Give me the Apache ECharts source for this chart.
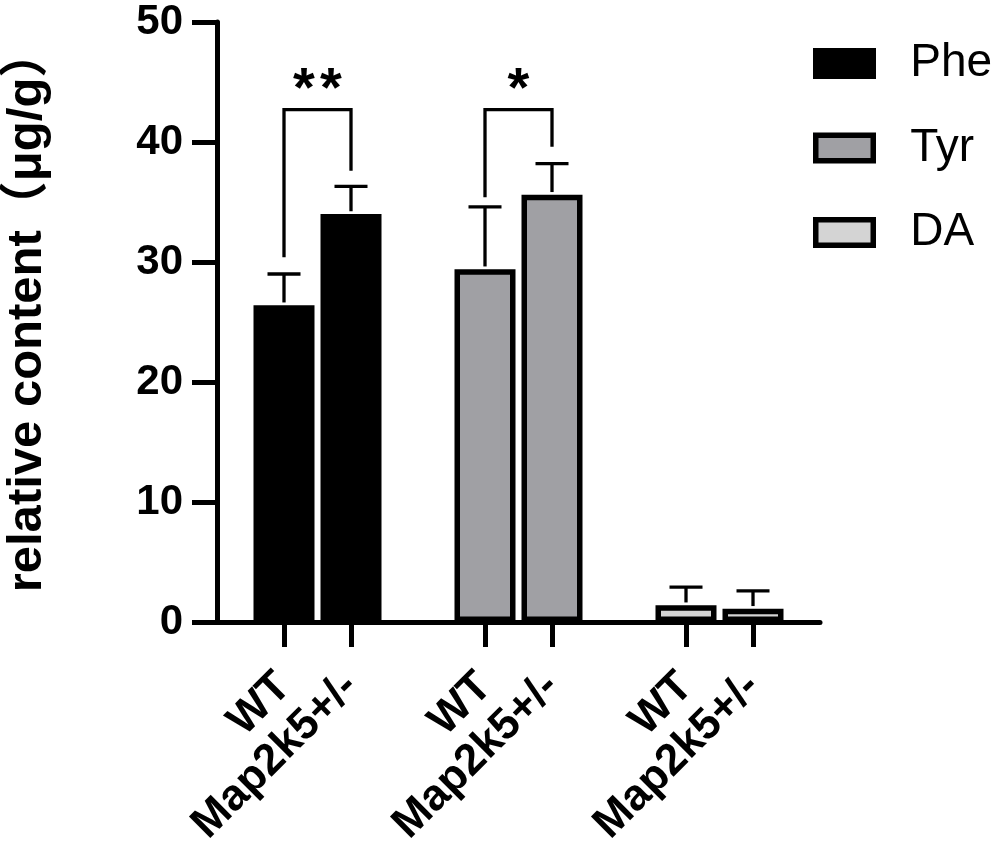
<!DOCTYPE html>
<html>
<head>
<meta charset="utf-8">
<script src="https://cdn.jsdelivr.net/npm/echarts@6/dist/echarts.min.js"></script>
<style>html,body{margin:0;padding:0;background:#fff}#c{width:1001px;height:849px}</style>
</head>
<body>
<div id="c"></div>
<script>
// categories along the x axis ('' = spacer slot)
const categories = ['', 'WT', 'Map2k5+/-', '', 'WT', 'Map2k5+/-', '', 'WT', 'Map2k5+/-', ''];
// slot index of each group's two bars
const pheIdx = [1, 2];
const tyrIdx = [4, 5];
const daIdx = [7, 8];
// means and (upper) errors
const pheMean = [26.4, 34.0];
const pheErr = [2.6, 2.3];
const tyrMean = [29.4, 35.6];
const tyrErr = [5.2, 2.6];
const daMean = [1.4, 1.1];
const daErr = [1.5, 1.5];
// y ticks
const yTicks = [0, 10, 20, 30, 40, 50];
// significance brackets: [leftSlot, rightSlot, top, leftBottom, rightBottom, starY]
const sigBrackets = [
  [1, 2, 42.7, 30.4, 37.6, 44.3],
  [4, 5, 42.7, 35.4, 39.6, 44.3]
];
const sigLabels = ['**', '*'];

const FONT = "'Liberation Sans', Arial, 'Noto Sans CJK SC', sans-serif";

function pairs(idx, mean) { return idx.map((k, i) => [k, mean[i]]); }
function errData(idx, mean, err) { return idx.map((k, i) => [k, mean[i], err[i]]); }
const allErr = [].concat(errData(pheIdx, pheMean, pheErr), errData(tyrIdx, tyrMean, tyrErr), errData(daIdx, daMean, daErr));

const chart = echarts.init(document.getElementById('c'), null, {renderer: 'canvas'});
const BW = 5.5;
const fills = {Phe: '#000000', Tyr: '#a0a0a4', DA: '#d4d4d4'};
chart.setOption({
  animation: false,
  backgroundColor: '#fff',
  grid: {left: 217, right: 181, top: 22, bottom: 227, containLabel: false, outerBoundsMode: 'none'},
  legend: {
    orient: 'vertical', left: 813, top: 40.5, padding: 0,
    itemWidth: 57.5, itemHeight: 25.5, itemGap: 38.5,
    icon: 'rect',
    textStyle: {fontFamily: FONT, fontSize: 46, color: '#000', lineHeight: 44, padding: [0, 0, 0, 32]},
    data: ['Phe', 'Tyr', 'DA'].map(n => ({name: n, itemStyle: {color: fills[n], borderColor: '#000', borderWidth: BW}}))
  },
  xAxis: [
    {type: 'value', min: 0, max: categories.length - 1, show: false, position: 'bottom'},
    {
      type: 'category', data: categories, boundaryGap: false, position: 'bottom',
      axisLine: {onZero: false, lineStyle: {color: '#000', width: 5}},
      axisTick: {length: 25, lineStyle: {color: '#000', width: 5}, interval: (i, v) => v !== ''},
      axisLabel: {interval: 0, rotate: 45, margin: 58, fontFamily: FONT, fontSize: 44, fontWeight: 'bold', color: '#000'},
      splitLine: {show: false}
    }
  ],
  yAxis: {
    type: 'value', min: yTicks[0], max: yTicks[yTicks.length - 1], interval: 10,
    name: 'relative content（μg/g）', nameLocation: 'middle', nameGap: 165, nameRotate: 90, nameMoveOverlap: false,
    nameTextStyle: {fontFamily: FONT, fontSize: 49, fontWeight: 'bold', color: '#000', padding: [0, 0, 0, 23]},
    axisLine: {show: true, onZero: false, lineStyle: {color: '#000', width: 5}},
    axisTick: {show: true, length: 25, lineStyle: {color: '#000', width: 5}},
    axisLabel: {margin: 34, fontFamily: FONT, fontSize: 42, fontWeight: 'bold', color: '#000'},
    splitLine: {show: false}
  },
  series: [
    {name: 'Phe', type: 'bar', xAxisIndex: 0, barWidth: 61, barGap: '-100%', data: pairs(pheIdx, pheMean),
     itemStyle: {color: fills.Phe, borderColor: '#000', borderWidth: BW}},
    {name: 'Tyr', type: 'bar', xAxisIndex: 0, barWidth: 61, barGap: '-100%', data: pairs(tyrIdx, tyrMean),
     itemStyle: {color: fills.Tyr, borderColor: '#000', borderWidth: BW}},
    {name: 'DA', type: 'bar', xAxisIndex: 0, barWidth: 61, barGap: '-100%', data: pairs(daIdx, daMean),
     itemStyle: {color: fills.DA, borderColor: '#000', borderWidth: BW}},
    {
      type: 'custom', xAxisIndex: 0, z: 5, data: allErr, encode: {x: 0, y: [1, 2]},
      renderItem: function (params, api) {
        const x = api.value(0), m = api.value(1), e = api.value(2);
        const p0 = api.coord([x, m]);
        const p1 = api.coord([x, m + e]);
        const st = {stroke: '#000', lineWidth: 3.3};
        return {type: 'group', children: [
          {type: 'line', shape: {x1: p0[0], y1: p0[1] - BW / 2, x2: p1[0], y2: p1[1]}, style: st},
          {type: 'line', shape: {x1: p1[0] - 16.5, y1: p1[1], x2: p1[0] + 16.5, y2: p1[1]}, style: st}
        ]};
      }
    },
    {
      type: 'custom', xAxisIndex: 0, z: 5, data: sigBrackets, encode: {x: [0, 1], y: [2, 3, 4, 5]},
      renderItem: function (params, api) {
        const a = api.value(0), b = api.value(1), top = api.value(2), lb = api.value(3), rb = api.value(4), sy = api.value(5);
        const pl = api.coord([a, lb]), pt = api.coord([a, top]), pr = api.coord([b, top]), prb = api.coord([b, rb]);
        const ps = api.coord([a, sy]);
        const mx = (pl[0] + pr[0]) / 2;
        const chars = sigLabels[params.dataIndex].split('');
        const adv = 27;
        const children = [
          {type: 'polyline', shape: {points: [[pl[0], pl[1]], [pt[0], pt[1]], [pr[0], pr[1]], [prb[0], prb[1]]]},
           style: {stroke: '#000', lineWidth: 3.3, fill: null}}
        ];
        chars.forEach((ch, i) => {
          children.push({type: 'text', x: mx + (i - (chars.length - 1) / 2) * adv, y: ps[1],
            style: {text: ch, fontFamily: FONT, fontSize: 56, fontWeight: 'bold', fill: '#000', align: 'center', verticalAlign: 'middle'}});
        });
        return {type: 'group', children: children};
      }
    }
  ]
});
</script>
</body>
</html>
